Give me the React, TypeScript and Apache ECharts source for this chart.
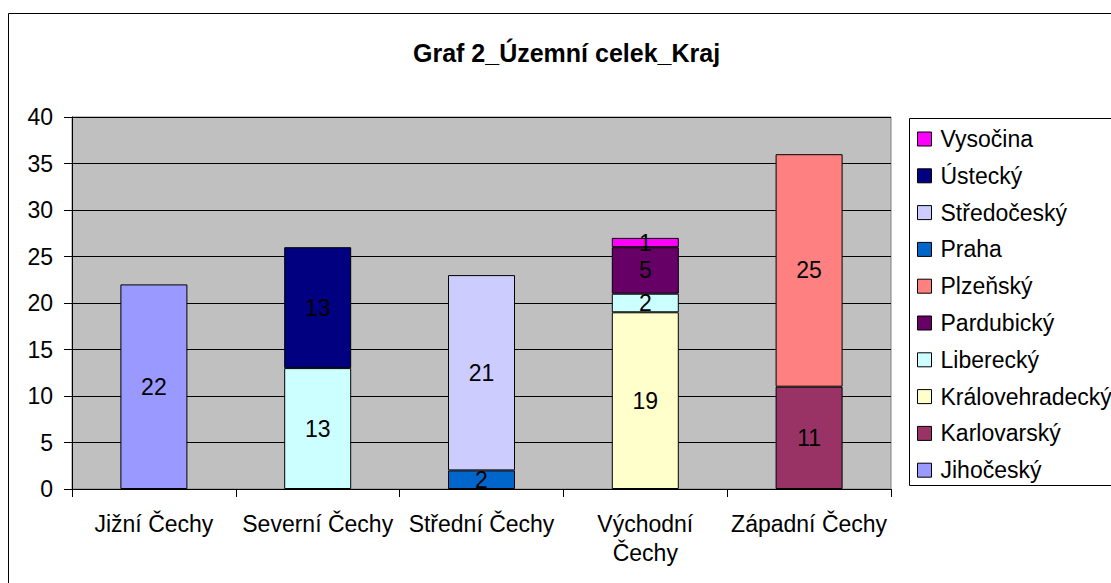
import React, { useEffect, useRef } from "react";
import * as echarts from "echarts";

const categories = ["Jižní Čechy", "Severní Čechy", "Střední Čechy", "Východní Čechy", "Západní Čechy"];
const yTicks = { min: 0, max: 40, interval: 5 };

const jihocesky = [22, null, null, null, null];
const karlovarsky = [null, null, null, null, 11];
const kralovehradecky = [null, null, null, 19, null];
const liberecky = [null, 13, null, 2, null];
const pardubicky = [null, null, null, 5, null];
const plzensky = [null, null, null, null, 25];
const praha = [null, null, 2, null, null];
const stredocesky = [null, null, 21, null, null];
const ustecky = [null, 13, null, null, null];
const vysocina = [null, null, null, 1, null];

const seriesDefs = [
  { name: "Jihočeský", data: jihocesky, color: "#9999FF" },
  { name: "Karlovarský", data: karlovarsky, color: "#993366" },
  { name: "Královehradecký", data: kralovehradecky, color: "#FFFFCC" },
  { name: "Liberecký", data: liberecky, color: "#CCFFFF" },
  { name: "Pardubický", data: pardubicky, color: "#660066" },
  { name: "Plzeňský", data: plzensky, color: "#FF8080" },
  { name: "Praha", data: praha, color: "#0066CC" },
  { name: "Středočeský", data: stredocesky, color: "#CCCCFF" },
  { name: "Ústecký", data: ustecky, color: "#000080" },
  { name: "Vysočina", data: vysocina, color: "#FF00FF" },
];

const FONT = "'Liberation Sans', Arial, sans-serif";
const FS = 23;

export default function App() {
  const ref = useRef<HTMLDivElement>(null);
  useEffect(() => {
    if (!ref.current) return;
    const chart = echarts.init(ref.current, null, { renderer: "svg" });
    chart.setOption({
      animation: false,
      backgroundColor: "#FFFFFF",
      title: {
        text: "Graf 2_Územní celek_Kraj",
        left: 413,
        top: 40,
        padding: 0,
        textStyle: { fontSize: 25, fontWeight: "bold", color: "#000", fontFamily: FONT },
      },
      graphic: [
        {
          type: "rect",
          shape: { x: 8.5, y: 13.5, width: 1300, height: 800 },
          style: { fill: "none", stroke: "#000", lineWidth: 1 },
          silent: true,
        },
        {
          type: "rect",
          shape: { x: 909.5, y: 118.5, width: 400, height: 367 },
          style: { fill: "none", stroke: "#000", lineWidth: 1 },
          silent: true,
        },
      ],
      legend: {
        orient: "vertical",
        left: 917,
        top: 127.5,
        padding: 0,
        itemWidth: 14,
        itemHeight: 14,
        itemGap: 13.8,
        icon: "rect",
        data: seriesDefs.map((s) => s.name).reverse(),
        itemStyle: { borderColor: "#000", borderWidth: 1 },
        textStyle: { fontSize: FS, lineHeight: 23, color: "#000", fontFamily: FONT, padding: [0, 0, 0, 4] },
      },
      grid: {
        left: 72,
        right: 220,
        top: 117,
        bottom: 94,
        show: true,
        backgroundColor: "#C0C0C0",
        borderColor: "#808080",
        borderWidth: 1,
      },
      xAxis: {
        type: "category",
        data: categories,
        axisLine: { lineStyle: { color: "#000", width: 1 } },
        axisTick: { show: true, alignWithLabel: false, length: 8, lineStyle: { color: "#000" } },
        axisLabel: {
          interval: 0,
          margin: 20,
          fontSize: FS,
          lineHeight: 29,
          color: "#000",
          fontFamily: FONT,
          formatter: (v: string) => (v === "Východní Čechy" ? "Východní\nČechy" : v),
        },
      },
      yAxis: {
        type: "value",
        min: yTicks.min,
        max: yTicks.max,
        interval: yTicks.interval,
        axisLine: { show: true, lineStyle: { color: "#000", width: 1 } },
        axisTick: { show: true, length: 8, lineStyle: { color: "#000" } },
        axisLabel: { margin: 19, fontSize: FS, color: "#000", fontFamily: FONT },
        splitLine: { show: true, lineStyle: { color: "#000", width: 1 } },
      },
      series: seriesDefs.map((s) => ({
        name: s.name,
        type: "bar",
        stack: "total",
        barWidth: 67,
        data: s.data,
        itemStyle: { color: s.color, borderColor: "#000", borderWidth: 1 },
        label: {
          show: true,
          position: "inside",
          fontSize: FS,
          color: "#000",
          fontFamily: FONT,
        },
      })),
    });
    return () => chart.dispose();
  }, []);
  return (
    <div
      ref={ref}
      style={{ position: "fixed", left: 0, top: 0, width: 1111, height: 583, background: "#fff" }}
    />
  );
}
